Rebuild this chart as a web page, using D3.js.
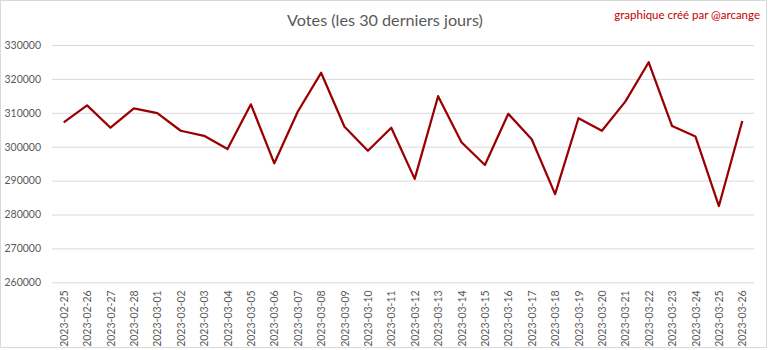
<!DOCTYPE html>
<html>
<head>
<meta charset="utf-8">
<script src="https://cdn.jsdelivr.net/npm/d3@7"></script>
<style>
  html, body { margin: 0; padding: 0; background: #fff; }
  svg { display: block; }
</style>
</head>
<body>
<svg id="chart" width="768" height="350"></svg>
<script>
// Daily vote counts over the last 30 days
const dates = [
  "2023-02-25","2023-02-26","2023-02-27","2023-02-28","2023-03-01","2023-03-02",
  "2023-03-03","2023-03-04","2023-03-05","2023-03-06","2023-03-07","2023-03-08",
  "2023-03-09","2023-03-10","2023-03-11","2023-03-12","2023-03-13","2023-03-14",
  "2023-03-15","2023-03-16","2023-03-17","2023-03-18","2023-03-19","2023-03-20",
  "2023-03-21","2023-03-22","2023-03-23","2023-03-24","2023-03-25","2023-03-26"
];
const votes = [
  307200, 312200, 305600, 311300, 309900, 304700,
  303200, 299300, 312500, 295100, 310300, 321800,
  305900, 298800, 305600, 290500, 314900, 301300,
  294600, 309700, 302200, 286000, 308400, 304700,
  313300, 324900, 306100, 303000, 282500, 307600
];
const yTicks = [260000, 270000, 280000, 290000, 300000, 310000, 320000, 330000];
const title = "Votes (les 30 derniers jours)";
const credit = "graphique créé par @arcange";

const font = "Lato, 'Open Sans', sans-serif";
const svg = d3.select("#chart");

// outer frame
svg.append("rect")
  .attr("x", 0.5).attr("y", 0.5)
  .attr("width", 766).attr("height", 347)
  .attr("fill", "#fff").attr("stroke", "#d9d9d9");

const plot = { left: 52, right: 754, top: 45, bottom: 282.3 };

const x = d3.scalePoint()
  .domain(dates)
  .range([plot.left, plot.right])
  .padding(0.5);

const y = d3.scaleLinear()
  .domain([260000, 330000])
  .range([plot.bottom, plot.top]);

// horizontal gridlines + y labels
const yAxis = d3.axisLeft(y)
  .tickValues(yTicks)
  .tickSize(-(plot.right - plot.left))
  .tickPadding(11)
  .tickFormat(d3.format("d"));

const gy = svg.append("g")
  .attr("transform", `translate(${plot.left},0)`)
  .call(yAxis);
gy.select(".domain").remove();
gy.selectAll(".tick line").attr("stroke", "#d9d9d9").attr("stroke-width", 1);
gy.selectAll(".tick text")
  .attr("fill", "#595959")
  .style("font-family", font)
  .style("font-size", "10.5px");

// x axis labels, rotated
const xAxis = d3.axisBottom(x).tickSize(0).tickPadding(0);
const gx = svg.append("g")
  .attr("transform", `translate(0,${plot.bottom})`)
  .call(xAxis);
gx.select(".domain").remove();
gx.selectAll(".tick text")
  .attr("fill", "#595959")
  .style("font-family", font)
  .style("font-size", "10.5px")
  .attr("text-anchor", "end")
  .attr("dy", "0.35em")
  .attr("transform", "translate(0,8) rotate(-90)")
  .attr("x", 0).attr("y", 0);

// the data line
const line = d3.line()
  .x((d, i) => x(dates[i]))
  .y(d => y(d));

svg.append("path")
  .datum(votes)
  .attr("d", line)
  .attr("fill", "none")
  .attr("stroke", "#9a0000")
  .attr("stroke-width", 2.25)
  .attr("stroke-linejoin", "round");

// title
svg.append("text")
  .attr("x", 385).attr("y", 26)
  .attr("text-anchor", "middle")
  .attr("fill", "#595959")
  .style("font-family", font)
  .style("font-size", "16.2px")
  .text(title);

// credit
svg.append("text")
  .attr("x", 760).attr("y", 19)
  .attr("text-anchor", "end")
  .attr("fill", "#c00000")
  .style("font-family", font)
  .style("font-size", "11.5px")
  .text(credit);
</script>
</body>
</html>
